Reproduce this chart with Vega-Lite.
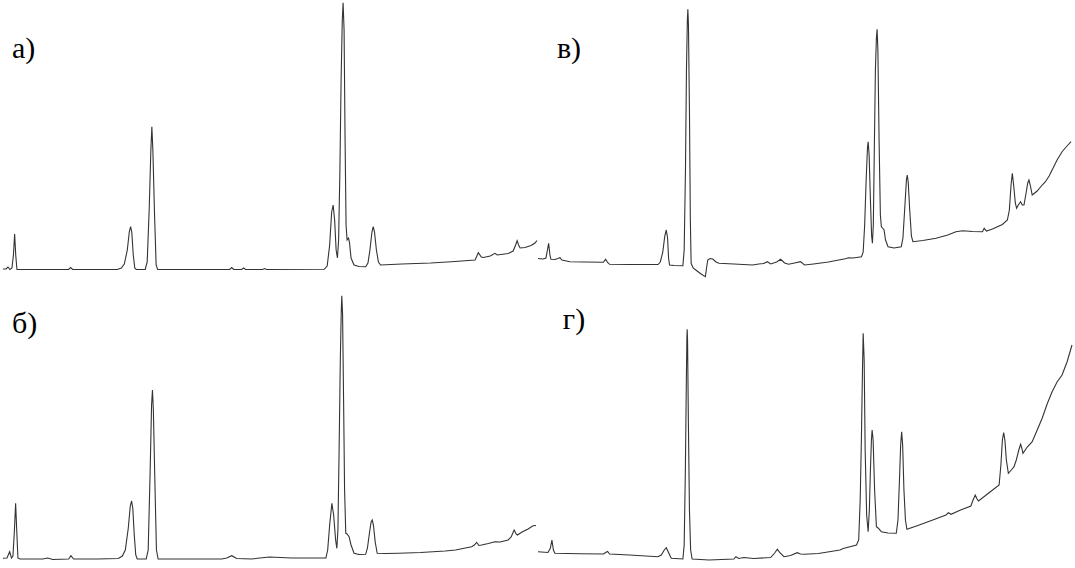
{
  "$schema": "https://vega.github.io/schema/vega-lite/v6.json",
  "width": 1075,
  "height": 568,
  "autosize": {"type": "fit", "contains": "padding"},
  "padding": 0,
  "background": "white",
  "config": {"view": {"stroke": null}},
  "datasets": {
    "trace": [
      {"p":"а","t":0,"s":299},{"p":"а","t":3,"s":299},{"p":"а","t":5,"s":301},{"p":"а","t":7,"s":298.5},{"p":"а","t":9,"s":300},{"p":"а","t":10.5,"s":313},{"p":"а","t":11.7,"s":334},{"p":"а","t":12.8,"s":313},{"p":"а","t":14,"s":298.5},{"p":"а","t":40,"s":298.5},{"p":"а","t":66,"s":298.5},{"p":"а","t":68,"s":300.5},{"p":"а","t":70,"s":298.5},{"p":"а","t":115,"s":298.5},{"p":"а","t":119,"s":300},{"p":"а","t":122,"s":304},{"p":"а","t":125,"s":318},{"p":"а","t":127,"s":336},{"p":"а","t":128.3,"s":341.3},{"p":"а","t":129.5,"s":336},{"p":"а","t":131,"s":313},{"p":"а","t":132.5,"s":300},{"p":"а","t":134,"s":298.5},{"p":"а","t":143,"s":298.5},{"p":"а","t":145,"s":306},{"p":"а","t":147,"s":358},{"p":"а","t":148.7,"s":418},{"p":"а","t":149.7,"s":441.3},{"p":"а","t":150.7,"s":418},{"p":"а","t":152.4,"s":353},{"p":"а","t":154,"s":303},{"p":"а","t":155.5,"s":298.5},{"p":"а","t":228,"s":298.5},{"p":"а","t":230,"s":300.5},{"p":"а","t":232,"s":298.5},{"p":"а","t":240,"s":298.5},{"p":"а","t":242,"s":300},{"p":"а","t":244,"s":298.5},{"p":"а","t":261,"s":298.5},{"p":"а","t":263,"s":299.5},{"p":"а","t":265,"s":298.5},{"p":"а","t":323,"s":298.7},{"p":"а","t":326,"s":302},{"p":"а","t":328.5,"s":323},{"p":"а","t":330.5,"s":356},{"p":"а","t":332,"s":363},{"p":"а","t":333.5,"s":348},{"p":"а","t":335,"s":318},{"p":"а","t":336.3,"s":310},{"p":"а","t":337.5,"s":328},{"p":"а","t":338.8,"s":398},{"p":"а","t":340,"s":488},{"p":"а","t":341.2,"s":548},{"p":"а","t":342,"s":565.3},{"p":"а","t":343,"s":538},{"p":"а","t":344,"s":428},{"p":"а","t":345,"s":343},{"p":"а","t":346,"s":328},{"p":"а","t":347.5,"s":330},{"p":"а","t":348.5,"s":325},{"p":"а","t":350,"s":310},{"p":"а","t":353,"s":303},{"p":"а","t":358,"s":301.5},{"p":"а","t":364.7,"s":301.3},{"p":"а","t":367,"s":305},{"p":"а","t":369,"s":318},{"p":"а","t":371,"s":336},{"p":"а","t":372.3,"s":341.3},{"p":"а","t":373.6,"s":336},{"p":"а","t":375.5,"s":318},{"p":"а","t":377.5,"s":306},{"p":"а","t":379.7,"s":303},{"p":"а","t":401,"s":304},{"p":"а","t":430,"s":305},{"p":"а","t":451,"s":306.3},{"p":"а","t":474.7,"s":308},{"p":"а","t":478,"s":315.3},{"p":"а","t":481,"s":311},{"p":"а","t":483,"s":310.5},{"p":"а","t":490,"s":312},{"p":"а","t":494.7,"s":314.7},{"p":"а","t":497,"s":313},{"p":"а","t":508,"s":314.5},{"p":"а","t":513,"s":317},{"p":"а","t":515.5,"s":323},{"p":"а","t":517,"s":327.3},{"p":"а","t":518.5,"s":323},{"p":"а","t":520,"s":320},{"p":"а","t":525,"s":320.5},{"p":"а","t":531,"s":322.5},{"p":"а","t":535,"s":325},{"p":"а","t":537,"s":327.5},

      {"p":"в","t":538,"s":309.5},{"p":"в","t":543,"s":309},{"p":"в","t":546,"s":310},{"p":"в","t":547.5,"s":318},{"p":"в","t":548.7,"s":324.7},{"p":"в","t":550,"s":313},{"p":"в","t":551,"s":308.7},{"p":"в","t":555,"s":308.5},{"p":"в","t":558,"s":309.5},{"p":"в","t":560,"s":310.3},{"p":"в","t":562,"s":308},{"p":"в","t":570,"s":306.3},{"p":"в","t":585,"s":306},{"p":"в","t":603.7,"s":305.7},{"p":"в","t":606,"s":308.7},{"p":"в","t":608,"s":305.5},{"p":"в","t":610,"s":303.7},{"p":"в","t":630,"s":303.5},{"p":"в","t":658.7,"s":303.5},{"p":"в","t":661,"s":306},{"p":"в","t":663.5,"s":316},{"p":"в","t":665.5,"s":332},{"p":"в","t":667,"s":338},{"p":"в","t":668.3,"s":330},{"p":"в","t":669.3,"s":310},{"p":"в","t":670.3,"s":303},{"p":"в","t":675,"s":302.5},{"p":"в","t":683.7,"s":302.3},{"p":"в","t":685,"s":318},{"p":"в","t":686.3,"s":398},{"p":"в","t":687.3,"s":498},{"p":"в","t":688.2,"s":548},{"p":"в","t":688.7,"s":558.7},{"p":"в","t":689.3,"s":543},{"p":"в","t":690.3,"s":458},{"p":"в","t":691.2,"s":348},{"p":"в","t":692,"s":304.7},{"p":"в","t":694,"s":300},{"p":"в","t":698,"s":297},{"p":"в","t":702,"s":294},{"p":"в","t":706.3,"s":291.3},{"p":"в","t":707.5,"s":300},{"p":"в","t":708.7,"s":308},{"p":"в","t":711,"s":309.5},{"p":"в","t":713.7,"s":309},{"p":"в","t":717,"s":306},{"p":"в","t":720,"s":304.7},{"p":"в","t":735,"s":304},{"p":"в","t":753.7,"s":303},{"p":"в","t":760,"s":304},{"p":"в","t":765,"s":304.5},{"p":"в","t":768.7,"s":306.3},{"p":"в","t":772,"s":304},{"p":"в","t":778,"s":306},{"p":"в","t":782,"s":308.7},{"p":"в","t":786,"s":305},{"p":"в","t":790,"s":303.7},{"p":"в","t":796,"s":305},{"p":"в","t":802,"s":306.3},{"p":"в","t":806,"s":303},{"p":"в","t":815,"s":304},{"p":"в","t":830,"s":306},{"p":"в","t":848.3,"s":309.5},{"p":"в","t":850,"s":310.3},{"p":"в","t":855,"s":310},{"p":"в","t":863.3,"s":311.3},{"p":"в","t":865,"s":316},{"p":"в","t":866.5,"s":343},{"p":"в","t":868,"s":388},{"p":"в","t":869.3,"s":420},{"p":"в","t":870,"s":426.3},{"p":"в","t":871,"s":413},{"p":"в","t":872.3,"s":368},{"p":"в","t":873.5,"s":332},{"p":"в","t":874.3,"s":324.7},{"p":"в","t":875.2,"s":343},{"p":"в","t":876.2,"s":418},{"p":"в","t":877.3,"s":498},{"p":"в","t":878.3,"s":530},{"p":"в","t":879,"s":538.7},{"p":"в","t":879.8,"s":518},{"p":"в","t":881,"s":428},{"p":"в","t":882.3,"s":353},{"p":"в","t":883.3,"s":341.3},{"p":"в","t":884.5,"s":340},{"p":"в","t":886,"s":338},{"p":"в","t":887.5,"s":328},{"p":"в","t":890,"s":321.3},{"p":"в","t":896,"s":320},{"p":"в","t":903.3,"s":321.3},{"p":"в","t":905,"s":330},{"p":"в","t":907,"s":363},{"p":"в","t":908.5,"s":388},{"p":"в","t":909.3,"s":393},{"p":"в","t":910.3,"s":386},{"p":"в","t":911.8,"s":358},{"p":"в","t":913.5,"s":332},{"p":"в","t":915,"s":326.3},{"p":"в","t":925,"s":327.5},{"p":"в","t":938.3,"s":329.7},{"p":"в","t":950,"s":333},{"p":"в","t":958.3,"s":336.3},{"p":"в","t":965,"s":337.3},{"p":"в","t":975,"s":336.5},{"p":"в","t":985,"s":336.3},{"p":"в","t":986.7,"s":339.7},{"p":"в","t":989,"s":337},{"p":"в","t":995,"s":339},{"p":"в","t":1005,"s":343.5},{"p":"в","t":1010,"s":348},{"p":"в","t":1012,"s":358},{"p":"в","t":1013.7,"s":383},{"p":"в","t":1015,"s":394.7},{"p":"в","t":1016.3,"s":383},{"p":"в","t":1018,"s":365},{"p":"в","t":1019.3,"s":359.7},{"p":"в","t":1021,"s":363},{"p":"в","t":1023.3,"s":366.3},{"p":"в","t":1025,"s":363},{"p":"в","t":1026.7,"s":363},{"p":"в","t":1028.5,"s":373},{"p":"в","t":1030.5,"s":385},{"p":"в","t":1031.7,"s":388},{"p":"в","t":1033,"s":383},{"p":"в","t":1035,"s":373},{"p":"в","t":1040,"s":377},{"p":"в","t":1045,"s":383},{"p":"в","t":1048.3,"s":386.3},{"p":"в","t":1052,"s":392},{"p":"в","t":1056,"s":400},{"p":"в","t":1060,"s":408},{"p":"в","t":1065,"s":416.3},{"p":"в","t":1070,"s":422},{"p":"в","t":1074,"s":426.3},

      {"p":"б","t":0,"s":9.7},{"p":"б","t":4,"s":10},{"p":"б","t":6.7,"s":16.3},{"p":"б","t":8.5,"s":10},{"p":"б","t":10,"s":12},{"p":"б","t":11.5,"s":38},{"p":"б","t":12.7,"s":64.7},{"p":"б","t":13.8,"s":38},{"p":"б","t":15,"s":10},{"p":"б","t":17,"s":9},{"p":"б","t":40,"s":9},{"p":"б","t":45,"s":10},{"p":"б","t":50,"s":8.5},{"p":"б","t":66,"s":9},{"p":"б","t":68.3,"s":12.3},{"p":"б","t":71,"s":9},{"p":"б","t":95,"s":9},{"p":"б","t":116,"s":9.5},{"p":"б","t":120,"s":12},{"p":"б","t":123,"s":18},{"p":"б","t":126,"s":40},{"p":"б","t":128,"s":62},{"p":"б","t":129.3,"s":67},{"p":"б","t":130.5,"s":60},{"p":"б","t":132,"s":33},{"p":"б","t":133.5,"s":13},{"p":"б","t":135,"s":9},{"p":"б","t":144,"s":9},{"p":"б","t":146,"s":18},{"p":"б","t":148,"s":98},{"p":"б","t":149.4,"s":163},{"p":"б","t":150.3,"s":178},{"p":"б","t":151.2,"s":158},{"p":"б","t":152.7,"s":88},{"p":"б","t":154.3,"s":18},{"p":"б","t":156,"s":9},{"p":"б","t":220,"s":9},{"p":"б","t":225,"s":10},{"p":"б","t":230,"s":12.3},{"p":"б","t":235,"s":9.5},{"p":"б","t":250,"s":9},{"p":"б","t":258,"s":10},{"p":"б","t":263.3,"s":10.5},{"p":"б","t":268,"s":11},{"p":"б","t":290,"s":10},{"p":"б","t":324.7,"s":10},{"p":"б","t":326.5,"s":18},{"p":"б","t":328.5,"s":43},{"p":"б","t":330.7,"s":64.7},{"p":"б","t":332.5,"s":53},{"p":"б","t":334.5,"s":28},{"p":"б","t":335.7,"s":19.7},{"p":"б","t":336.8,"s":38},{"p":"б","t":338,"s":118},{"p":"б","t":339.2,"s":208},{"p":"б","t":340.2,"s":258},{"p":"б","t":340.7,"s":272.3},{"p":"б","t":341.5,"s":253},{"p":"б","t":342.5,"s":168},{"p":"б","t":343.5,"s":78},{"p":"б","t":344.7,"s":34.7},{"p":"б","t":346,"s":34},{"p":"б","t":348,"s":31.3},{"p":"б","t":350,"s":23},{"p":"б","t":353,"s":14.7},{"p":"б","t":358,"s":13.5},{"p":"б","t":364.7,"s":13.7},{"p":"б","t":366.5,"s":20},{"p":"б","t":368.5,"s":35},{"p":"б","t":370.2,"s":46},{"p":"б","t":371.3,"s":48},{"p":"б","t":372.5,"s":43},{"p":"б","t":374.3,"s":26},{"p":"б","t":376.3,"s":14.7},{"p":"б","t":385,"s":14.5},{"p":"б","t":398,"s":14.7},{"p":"б","t":420,"s":15.5},{"p":"б","t":444.7,"s":17},{"p":"б","t":455,"s":18},{"p":"б","t":465,"s":20},{"p":"б","t":471.3,"s":21.3},{"p":"б","t":474,"s":23},{"p":"б","t":476.3,"s":25.7},{"p":"б","t":478.5,"s":22.5},{"p":"б","t":481.3,"s":23},{"p":"б","t":488,"s":24.5},{"p":"б","t":494.7,"s":26.3},{"p":"б","t":500,"s":26},{"p":"б","t":508,"s":28},{"p":"б","t":511,"s":31},{"p":"б","t":514,"s":38},{"p":"б","t":516,"s":34},{"p":"б","t":517.3,"s":33},{"p":"б","t":522,"s":36},{"p":"б","t":528,"s":39},{"p":"б","t":533,"s":42.3},{"p":"б","t":536,"s":42.5},

      {"p":"г","t":538,"s":16.3},{"p":"г","t":548,"s":15.5},{"p":"г","t":550.5,"s":20},{"p":"г","t":552,"s":28},{"p":"г","t":553.5,"s":18},{"p":"г","t":555,"s":14.7},{"p":"г","t":580,"s":14.2},{"p":"г","t":604,"s":14},{"p":"г","t":606,"s":15.5},{"p":"г","t":608,"s":16.5},{"p":"г","t":610,"s":14},{"p":"г","t":630,"s":13},{"p":"г","t":658.7,"s":11.3},{"p":"г","t":662,"s":13},{"p":"г","t":665,"s":18},{"p":"г","t":667,"s":20.3},{"p":"г","t":669,"s":16},{"p":"г","t":672,"s":9.7},{"p":"г","t":683.7,"s":9},{"p":"г","t":685,"s":23},{"p":"г","t":686.2,"s":98},{"p":"г","t":687.2,"s":188},{"p":"г","t":687.7,"s":228},{"p":"г","t":688,"s":238.7},{"p":"г","t":688.4,"s":228},{"p":"г","t":689.2,"s":148},{"p":"г","t":690.3,"s":58},{"p":"г","t":691.5,"s":18},{"p":"г","t":693,"s":9},{"p":"г","t":710,"s":8},{"p":"г","t":735,"s":9},{"p":"г","t":737,"s":11.3},{"p":"г","t":740,"s":9.5},{"p":"г","t":745,"s":10.5},{"p":"г","t":750,"s":10},{"p":"г","t":755,"s":9.5},{"p":"г","t":772,"s":10.5},{"p":"г","t":776,"s":15},{"p":"г","t":778.7,"s":18.7},{"p":"г","t":781.5,"s":15},{"p":"г","t":785.3,"s":11.3},{"p":"г","t":792,"s":12.5},{"p":"г","t":798.7,"s":15.3},{"p":"г","t":802,"s":14},{"p":"г","t":806,"s":13.7},{"p":"г","t":820,"s":14.5},{"p":"г","t":841.7,"s":18},{"p":"г","t":845,"s":19.5},{"p":"г","t":858.3,"s":23},{"p":"г","t":860.5,"s":28},{"p":"г","t":862,"s":68},{"p":"г","t":863.2,"s":128},{"p":"г","t":864.3,"s":198},{"p":"г","t":865,"s":234.7},{"p":"г","t":866,"s":208},{"p":"г","t":867,"s":118},{"p":"г","t":868.5,"s":53},{"p":"г","t":870,"s":36.3},{"p":"г","t":871.2,"s":58},{"p":"г","t":872.3,"s":98},{"p":"г","t":873.3,"s":128},{"p":"г","t":874,"s":138},{"p":"г","t":875,"s":128},{"p":"г","t":876.5,"s":78},{"p":"г","t":878.3,"s":41.3},{"p":"г","t":880,"s":40},{"p":"г","t":883.3,"s":36.3},{"p":"г","t":890,"s":35},{"p":"г","t":898.3,"s":34.7},{"p":"г","t":900,"s":48},{"p":"г","t":901.5,"s":88},{"p":"г","t":902.7,"s":123},{"p":"г","t":903.7,"s":136.3},{"p":"г","t":904.7,"s":123},{"p":"г","t":906,"s":78},{"p":"г","t":907.5,"s":48},{"p":"г","t":909,"s":38.7},{"p":"г","t":920,"s":42.5},{"p":"г","t":935,"s":48},{"p":"г","t":948.3,"s":53},{"p":"г","t":950.7,"s":55.3},{"p":"г","t":953.3,"s":53.7},{"p":"г","t":963,"s":58},{"p":"г","t":973.3,"s":62},{"p":"г","t":975.5,"s":68},{"p":"г","t":977.7,"s":73},{"p":"г","t":979.5,"s":69},{"p":"г","t":981,"s":67},{"p":"г","t":990,"s":74},{"p":"г","t":1001.7,"s":83},{"p":"г","t":1003.5,"s":103},{"p":"г","t":1005,"s":128},{"p":"г","t":1006.3,"s":135.3},{"p":"г","t":1007.5,"s":128},{"p":"г","t":1009,"s":108},{"p":"г","t":1011,"s":94.7},{"p":"г","t":1014,"s":98},{"p":"г","t":1016.7,"s":101.3},{"p":"г","t":1019,"s":108},{"p":"г","t":1021.5,"s":118},{"p":"г","t":1023.3,"s":123.7},{"p":"г","t":1024.5,"s":120},{"p":"г","t":1025.7,"s":114.7},{"p":"г","t":1030,"s":121},{"p":"г","t":1035,"s":126.3},{"p":"г","t":1040,"s":138},{"p":"г","t":1045,"s":149.7},{"p":"г","t":1050,"s":164},{"p":"г","t":1055,"s":176.3},{"p":"г","t":1060,"s":186},{"p":"г","t":1065,"s":193},{"p":"г","t":1070,"s":206},{"p":"г","t":1075,"s":223}
    ],
    "labels": [
      {"label":"а)","t":9,"s":510},
      {"label":"в)","t":557,"s":509.7},
      {"label":"б)","t":9,"s":235},
      {"label":"г)","t":563,"s":239.5}
    ]
  },
  "layer": [
    {
      "data": {"name": "trace"},
      "mark": {"type": "line", "color": "#333333", "strokeWidth": 1.1, "interpolate": "linear"},
      "encoding": {
        "x": {"field": "t", "type": "quantitative", "scale": {"domain": [0, 1075], "nice": false, "zero": false}, "axis": null},
        "y": {"field": "s", "type": "quantitative", "scale": {"domain": [0, 568], "nice": false, "zero": false}, "axis": null},
        "detail": {"field": "p", "type": "nominal"}
      }
    },
    {
      "data": {"name": "labels"},
      "mark": {"type": "text", "font": "'Liberation Serif', 'Times New Roman', 'DejaVu Serif', serif", "fontSize": 30, "color": "#000000", "align": "left", "baseline": "alphabetic"},
      "encoding": {
        "x": {"field": "t", "type": "quantitative"},
        "y": {"field": "s", "type": "quantitative"},
        "text": {"field": "label", "type": "nominal"}
      }
    }
  ]
}
